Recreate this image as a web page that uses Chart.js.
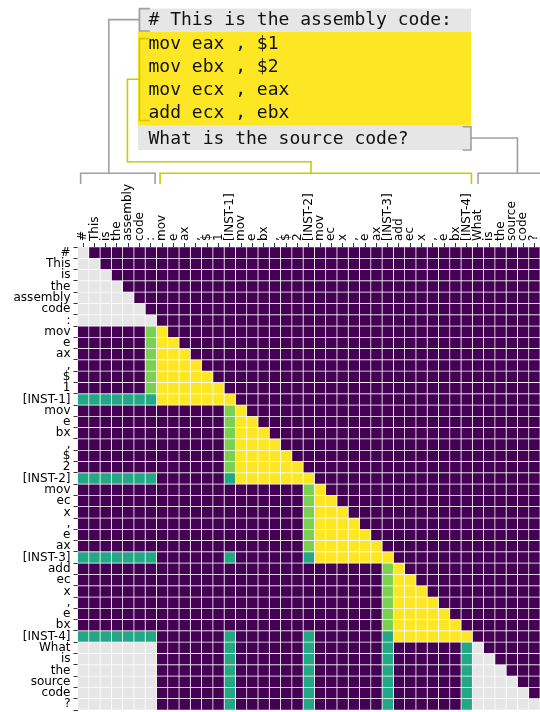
<!DOCTYPE html>
<html>
<head>
<meta charset="utf-8">
<script src="https://cdn.jsdelivr.net/npm/chart.js@4"></script>
<style>
  body { margin: 0; background: #fff; }
</style>
</head>
<body>
<canvas id="myChart" width="540" height="712"></canvas>
<script>
const tokens = ["#", "This", "is", "the", "assembly", "code", ":",
  "mov", "e", "ax", ",", "$", "1", "[INST-1]",
  "mov", "e", "bx", ",", "$", "2", "[INST-2]",
  "mov", "ec", "x", ",", "e", "ax", "[INST-3]",
  "add", "ec", "x", ",", "e", "bx", "[INST-4]",
  "What", "is", "the", "source", "code", "?"];

// one string per row, one digit per column (spaces only for reading)
// 0 masked, 1 prompt, 2 summary token, 3 previous summary, 4 current instruction
const mask = [
  "1000000 000000 0 000000 0 000000 0 000000 0 000000",
  "1100000 000000 0 000000 0 000000 0 000000 0 000000",
  "1110000 000000 0 000000 0 000000 0 000000 0 000000",
  "1111000 000000 0 000000 0 000000 0 000000 0 000000",
  "1111100 000000 0 000000 0 000000 0 000000 0 000000",
  "1111110 000000 0 000000 0 000000 0 000000 0 000000",
  "1111111 000000 0 000000 0 000000 0 000000 0 000000",
  "0000003 400000 0 000000 0 000000 0 000000 0 000000",
  "0000003 440000 0 000000 0 000000 0 000000 0 000000",
  "0000003 444000 0 000000 0 000000 0 000000 0 000000",
  "0000003 444400 0 000000 0 000000 0 000000 0 000000",
  "0000003 444440 0 000000 0 000000 0 000000 0 000000",
  "0000003 444444 0 000000 0 000000 0 000000 0 000000",
  "2222222 444444 4 000000 0 000000 0 000000 0 000000",
  "0000000 000000 3 400000 0 000000 0 000000 0 000000",
  "0000000 000000 3 440000 0 000000 0 000000 0 000000",
  "0000000 000000 3 444000 0 000000 0 000000 0 000000",
  "0000000 000000 3 444400 0 000000 0 000000 0 000000",
  "0000000 000000 3 444440 0 000000 0 000000 0 000000",
  "0000000 000000 3 444444 0 000000 0 000000 0 000000",
  "2222222 000000 2 444444 4 000000 0 000000 0 000000",
  "0000000 000000 0 000000 3 400000 0 000000 0 000000",
  "0000000 000000 0 000000 3 440000 0 000000 0 000000",
  "0000000 000000 0 000000 3 444000 0 000000 0 000000",
  "0000000 000000 0 000000 3 444400 0 000000 0 000000",
  "0000000 000000 0 000000 3 444440 0 000000 0 000000",
  "0000000 000000 0 000000 3 444444 0 000000 0 000000",
  "2222222 000000 2 000000 2 444444 4 000000 0 000000",
  "0000000 000000 0 000000 0 000000 3 400000 0 000000",
  "0000000 000000 0 000000 0 000000 3 440000 0 000000",
  "0000000 000000 0 000000 0 000000 3 444000 0 000000",
  "0000000 000000 0 000000 0 000000 3 444400 0 000000",
  "0000000 000000 0 000000 0 000000 3 444440 0 000000",
  "0000000 000000 0 000000 0 000000 3 444444 0 000000",
  "2222222 000000 2 000000 2 000000 2 444444 4 000000",
  "1111111 000000 2 000000 2 000000 2 000000 2 100000",
  "1111111 000000 2 000000 2 000000 2 000000 2 110000",
  "1111111 000000 2 000000 2 000000 2 000000 2 111000",
  "1111111 000000 2 000000 2 000000 2 000000 2 111100",
  "1111111 000000 2 000000 2 000000 2 000000 2 111110",
  "1111111 000000 2 000000 2 000000 2 000000 2 111111",
];

const promptLines = ["# This is the assembly code:"];
const codeLines = ["mov eax , $1", "mov ebx , $2", "mov ecx , eax", "add ecx , ebx"];
const questionLines = ["What is the source code?"];

const colors = ["#440154", "#e6e6e6", "#22a884", "#7ad151", "#fde725"];
const grid = mask.map((r) => r.replace(/ /g, ""));

const datasets = tokens.map((t, j) => ({
  data: tokens.map(() => 1),
  backgroundColor: grid.map((row) => colors[+row[j]]),
  borderColor: "#ffffff",
  borderWidth: 0.7,
  borderSkipped: false,
  barPercentage: 1,
  categoryPercentage: 1,
}));

// text box and brackets above the matrix
const annotate = {
  id: "annotate",
  afterDraw(chart) {
    const ctx = chart.ctx;
    const px = (v) => chart.scales.x.getPixelForValue(v);
    ctx.save();
    ctx.fillStyle = "#e6e6e6";
    ctx.fillRect(138, 8.6, 333, 23.4);
    ctx.fillRect(138, 125.7, 333, 24.3);
    ctx.fillStyle = "#fde725";
    ctx.fillRect(138, 32, 333, 93.7);

    ctx.font = '18px "DejaVu Sans Mono"';
    ctx.fillStyle = "#111";
    ctx.textBaseline = "middle";
    promptLines.forEach((l, i) => ctx.fillText(l, 148.5, 20 + i * 23.3));
    codeLines.forEach((l, i) => ctx.fillText(l, 148.5, 44.5 + i * 23.1));
    questionLines.forEach((l, i) => ctx.fillText(l, 148.5, 139 + i * 23.3));

    ctx.lineWidth = 1.6;
    const path = (pts, color) => {
      ctx.strokeStyle = color;
      ctx.beginPath();
      pts.forEach((p, i) => (i ? ctx.lineTo(p[0], p[1]) : ctx.moveTo(p[0], p[1])));
      ctx.stroke();
    };
    const grey = "#a0a0a0";
    const olive = "#cccc00";
    const top = 173.3, leg = 184;

    // prompt
    path([[149.8, 8.6], [139.5, 8.6], [139.5, 31], [149.8, 31]], grey);
    path([[139.5, 19.6], [108.8, 19.6], [108.8, top]], grey);
    path([[px(0.28), leg], [px(0.28), top], [px(6.88), top], [px(6.88), leg]], grey);

    // code
    path([[149.8, 38.6], [139.5, 38.6], [139.5, 120.5], [149.8, 120.5]], olive);
    path([[139.5, 79.2], [127.4, 79.2], [127.4, 161.8], [px(20.7), 161.8], [px(20.7), top]], olive);
    path([[px(7.32), leg], [px(7.32), top], [px(34.92), top], [px(34.92), leg]], olive);

    // question
    path([[462.5, 126.7], [471, 126.7], [471, 150], [462.5, 150]], grey);
    path([[471, 138], [px(39.0), 138], [px(39.0), top]], grey);
    path([[px(35.51), leg], [px(35.51), top], [px(41.6), top]], grey);
    ctx.restore();
  },
};

const tickFont = { family: "DejaVu Sans", size: 12 };

const config = {
  type: "bar",
  data: { labels: tokens, datasets: datasets },
  options: {
    indexAxis: "y",
    responsive: false,
    animation: false,
    devicePixelRatio: 1,
    layout: { padding: { left: 0, top: 0, right: 0, bottom: 2 } },
    plugins: { legend: { display: false }, tooltip: { enabled: false } },
    scales: {
      x: {
        type: "linear",
        position: "top",
        stacked: true,
        min: 0,
        max: tokens.length,
        afterBuildTicks: (s) => {
          s.ticks = tokens.map((t, i) => ({ value: i + 0.5 }));
        },
        afterFit: (s) => {
          s.height = 247;
          s.paddingLeft = 0;
          s.paddingRight = 0;
        },
        ticks: {
          autoSkip: false,
          minRotation: 90,
          maxRotation: 90,
          padding: 2,
          labelOffset: 14.4,
          color: "#000",
          font: tickFont,
          callback: (v, i) => tokens[i],
        },
        grid: { drawOnChartArea: false, tickLength: 4, tickColor: "#000", tickWidth: 0.8 },
        border: { display: false },
      },
      y: {
        stacked: true,
        afterFit: (s) => {
          s.width = 77.5;
          s.paddingTop = 0;
          s.paddingBottom = 0;
        },
        ticks: { autoSkip: false, padding: 3, color: "#000", font: tickFont },
        grid: { drawOnChartArea: false, tickLength: 4, tickColor: "#000", tickWidth: 0.8 },
        border: { display: false },
      },
    },
  },
  plugins: [annotate],
};

const myChart = new Chart(document.getElementById("myChart"), config);
</script>
</body>
</html>
